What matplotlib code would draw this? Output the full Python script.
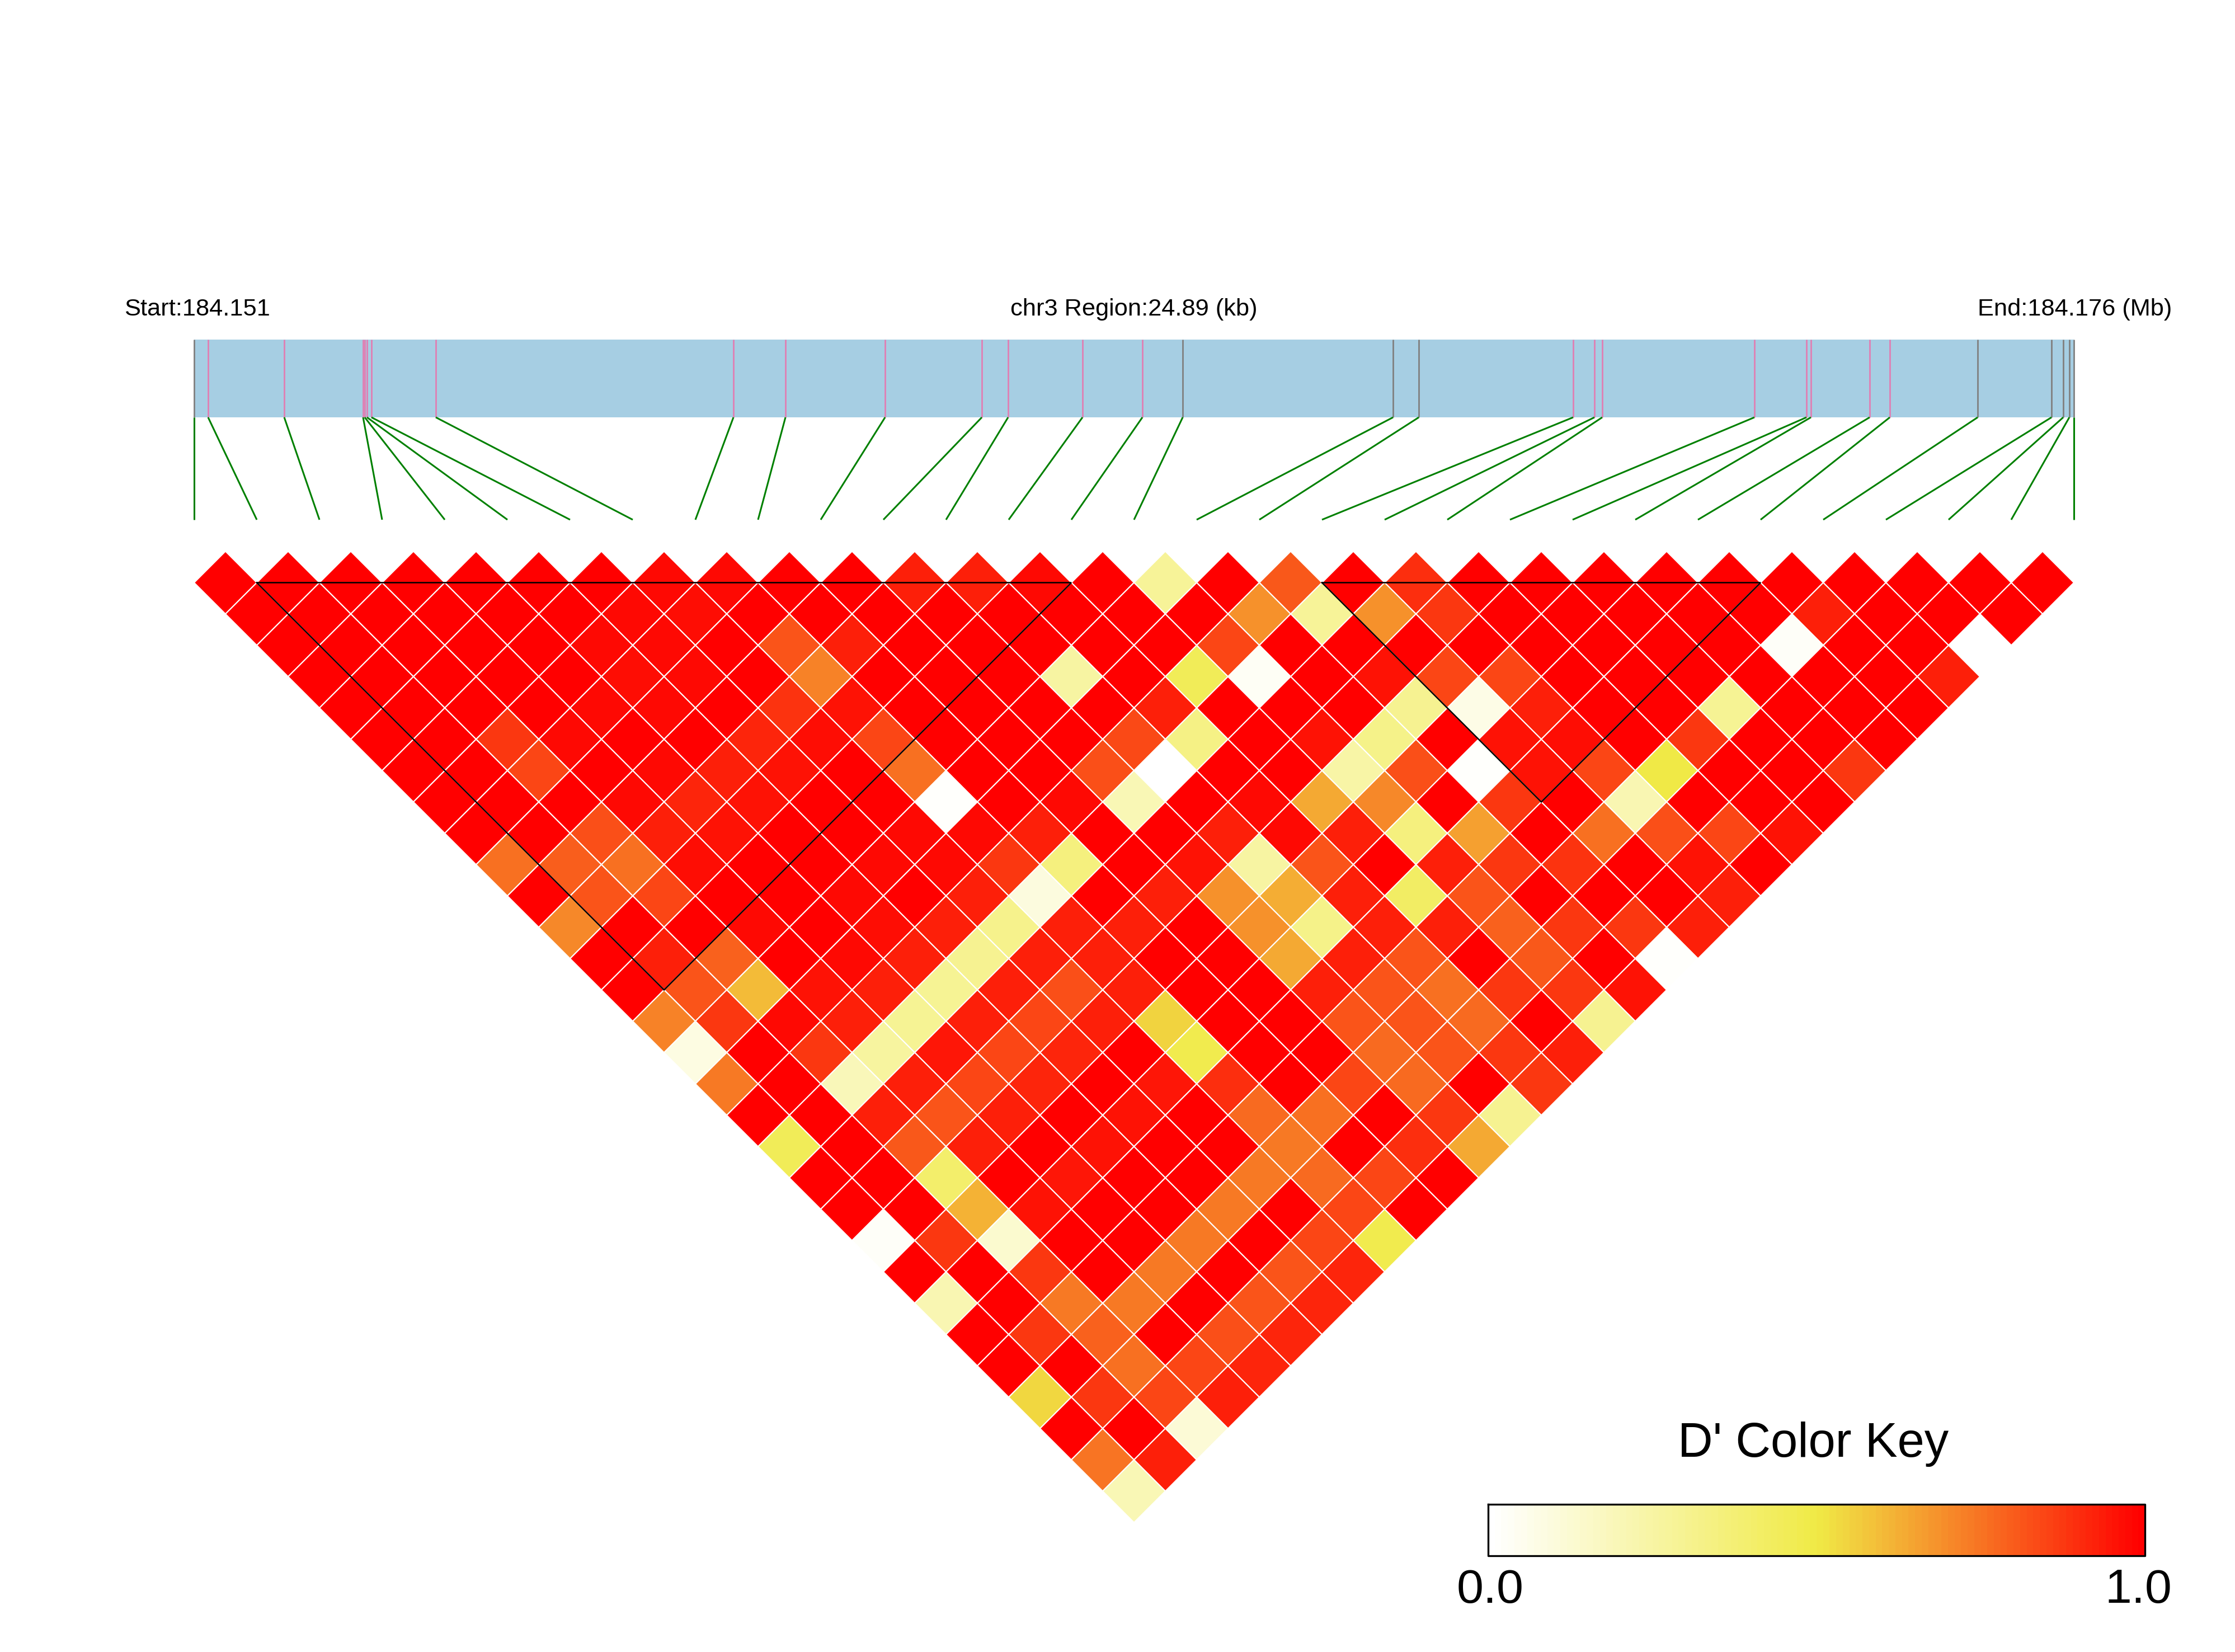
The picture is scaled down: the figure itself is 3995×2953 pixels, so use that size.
import matplotlib
matplotlib.use("Agg")
import matplotlib.pyplot as plt
from matplotlib.collections import PolyCollection, LineCollection
from matplotlib.colors import LinearSegmentedColormap, Normalize
import numpy as np

# SNP positions along the region, kb from the start
snp_pos_kb = [0, 0.185, 1.193, 2.237, 2.259, 2.289, 2.348, 3.200, 7.141, 7.830, 9.149,
              10.430, 10.778, 11.763, 12.556, 13.090, 15.875, 16.216, 18.260, 18.542,
              18.645, 20.660, 21.349, 21.408, 22.186, 22.453, 23.616, 24.594, 24.749,
              24.830, 24.89]
grey_snps = [0, 15, 16, 17, 26, 27, 28, 29, 30]
region_kb = 24.89

# D' values, one list per distance between SNP pairs
d_row00 = [1, 1, 1, 1, 1, 1, 1, .98, .98, 1, 1, .93, .93, .98, 1, .28, 1, .81, 1, .90, 1, 1, 1, 1, 1, 1, 1, 1, 1, 1]
d_row01 = [1, 1, 1, 1, 1, 1, .98, .97, 1, 1, 1, 1, 1, 1, 1, 1, .69, .28, .69, .88, 1, 1, 1, 1, 1, .93, 1, 1, 1]
d_row02 = [1, 1, 1, 1, 1, .98, .98, 1, .82, .93, 1, 1, 1, 1, 1, .85, 1, 1, 1, 1, 1, 1, 1, 1, .02, 1, 1, 0]
d_row03 = [1, 1, 1, 1, 1, .97, .98, 1, .72, 1, 1, 1, .25, 1, .45, .03, 1, .96, .85, .85, 1, 1, 1, 1, 1, 1, .93]
d_row04 = [1, 1, 1, 1, .98, .98, 1, .89, .96, 1, 1, 1, 1, .93, 1, 1, 1, .3, .07, .93, 1, 1, .29, 1, 1, 1]
d_row05 = [1, 1, .88, .98, 1, 1, .92, .97, .85, 1, 1, 1, .84, .33, 1, .96, .32, 1, .96, .97, 1, .88, 1, 1, 1]
d_row06 = [1, 1, .85, 1, .98, .93, .96, 1, .76, 1, 1, .83, 0, 1, 1, .24, .83, .01, .96, .85, .5, 1, 1, .88]
d_row07 = [1, 1, 1, .98, .92, .96, 1, 1, .01, 1, .98, .2, 1, .98, .64, .71, 1, .88, 1, .21, 1, 1, 1]
d_row08 = [1, 1, .83, .93, .96, 1, 1, .98, .98, .93, 1, 1, .93, .98, .93, .35, .66, 1, .76, .83, .85, .96]
d_row09 = [.76, .80, .76, .97, 1, 1, .98, .98, .88, .35, 1, .96, .25, .82, 1, .93, .88, .89, 1, .96, 1]
d_row10 = [1, .82, .85, 1, 1, .98, 1, .93, .09, 1, .93, .69, .63, .93, .42, .82, 1, 1, 1, .93]
d_row11 = [.71, 1, 1, .98, 1, .97, .93, .31, .93, .93, 1, .69, .32, .93, .93, .79, .88, .88, .93]
d_row12 = [1, .93, .79, 1, .98, .93, .3, .93, .93, 1, 1, .64, .93, .82, 1, .81, 1, .01]
d_row13 = [1, .82, .6, .96, .93, .29, .93, .83, .93, 1, 1, .93, .82, .76, .88, .88, .96]
d_row14 = [.72, .88, .98, .93, .29, .93, .85, .93, .55, 1, 1, .82, .82, .77, 1, .3]
d_row15 = [.08, 1, .88, .26, .95, .85, .92, 1, .48, 1, 1, .77, .82, .88, .93]
d_row16 = [.74, 1, .19, .93, .85, .92, 1, .95, .9, 1, .85, .77, 1, .88]
d_row17 = [1, 1, .93, .82, .93, 1, .96, 1, .77, .76, 1, .88, .3]
d_row18 = [.45, 1, .81, .93, 1, .96, 1, 1, .74, 1, .9, .64]
d_row19 = [1, 1, .4, 1, .95, 1, 1, .74, .77, .85, 1]
d_row20 = [1, 1, .62, .96, 1, 1, .74, 1, .85, 1]
d_row21 = [.02, .88, .13, 1, 1, .74, 1, .85, .48]
d_row22 = [1, 1, .88, 1, .74, 1, .82, .92]
d_row23 = [.21, 1, .74, .74, 1, .82, .92]
d_row24 = [1, .88, .79, 1, .83, .92]
d_row25 = [1, 1, .76, .85, .92]
d_row26 = [.54, .88, .85, .93]
d_row27 = [1, 1, .11]
d_row28 = [.75, .93]
d_row29 = [.2]
d_rows = [d_row00, d_row01, d_row02, d_row03, d_row04, d_row05, d_row06, d_row07, d_row08, d_row09,
          d_row10, d_row11, d_row12, d_row13, d_row14, d_row15, d_row16, d_row17, d_row18, d_row19,
          d_row20, d_row21, d_row22, d_row23, d_row24, d_row25, d_row26, d_row27, d_row28, d_row29]

# LD blocks as (first SNP gap, last SNP gap)
blocks = [(1, 14), (18, 25)]

W, H = 3995, 2953
left, right = 347, 3707
step = (right - left) / 30
half = step / 2
row0_y = 1041.5

cmap = LinearSegmentedColormap.from_list("ld", ["#FFFFFF", "#F0EA46", "#FF0000"])
norm = Normalize(0, 1)

plt.rcParams['font.family'] = ['Liberation Sans', 'DejaVu Sans']

fig = plt.figure(figsize=(W / 100, H / 100), dpi=100, facecolor="white")
ax = fig.add_axes([0, 0, 1, 1])
ax.set_xlim(0, W)
ax.set_ylim(H, 0)
ax.axis("off")

# gene bar on top
bar_top, bar_bottom = 607, 746
link_bottom = 929
ax.fill_between([left, right], bar_top, bar_bottom, color="#A6CEE3", lw=0)
snp_x = [left + p / region_kb * (right - left) for p in snp_pos_kb]
for n, x in enumerate(snp_x):
    col = "#808080" if n in grey_snps else "#E07FB3"
    ax.plot([x, x], [bar_top, bar_bottom], color=col, lw=2.0, solid_capstyle="butt")

links = [[(x, bar_bottom), (left + n * step, link_bottom)] for n, x in enumerate(snp_x)]
ax.add_collection(LineCollection(links, colors="#008000", linewidths=2.2))

# the LD triangle
polys, vals = [], []
for r, row in enumerate(d_rows):
    for i, v in enumerate(row):
        cx = left + step * (i + (r + 1) / 2)
        cy = row0_y + half * r
        polys.append([(cx, cy - half), (cx + half, cy), (cx, cy + half), (cx - half, cy)])
        vals.append(v)
cells = PolyCollection(polys, array=np.array(vals), cmap=cmap, norm=norm,
                       edgecolors="white", linewidths=1.5)
ax.add_collection(cells)

for a, b in blocks:
    xa = left + a * step
    xb = left + b * step
    apex = row0_y + (b - a) * half
    ax.plot([xa, xb, (xa + xb) / 2, xa], [row0_y, row0_y, apex, row0_y],
            color="black", lw=1.8, solid_joinstyle="miter")

# header text
ax.text(222, 564, "Start:184.151", fontsize=31.2, ha="left", va="baseline")
ax.text(2027, 564, "chr3 Region:24.89 (kb)", fontsize=31.2, ha="center", va="baseline")
ax.text(3882, 564, "End:184.176 (Mb)", fontsize=31.2, ha="right", va="baseline")

# colour key
key_l, key_r, key_t, key_b = 2660, 3834, 2689, 2781
key_vals = np.linspace(0, 1, 100).reshape(1, -1)
ax.pcolormesh(np.linspace(key_l, key_r, 101), [key_t, key_b], key_vals, cmap=cmap, norm=norm)
ax.plot([key_l, key_r, key_r, key_l, key_l], [key_t, key_t, key_b, key_b, key_t], color="black", lw=2.4)
ax.text(3241, 2604, "D' Color Key", fontsize=62.5, ha="center", va="baseline")
ax.text(2664, 2865, "0.0", fontsize=62, ha="center", va="baseline")
ax.text(3822, 2865, "1.0", fontsize=62, ha="center", va="baseline")

fig.savefig("out.png", dpi=100)
